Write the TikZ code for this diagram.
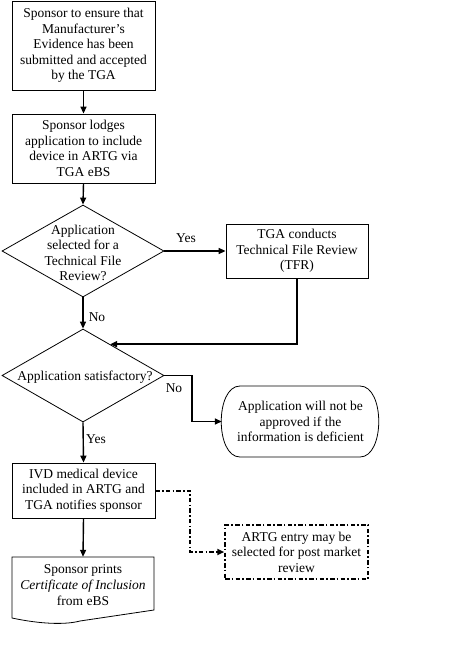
\documentclass[tikz,border=0pt]{standalone}
\usepackage{fontspec}
\setmainfont{Liberation Serif}
\usetikzlibrary{arrows.meta,shapes.geometric,calc}
\begin{document}
\begin{tikzpicture}[x=1pt,y=-1pt,
  every node/.style={font=\fontsize{13.5}{15.6}\selectfont, inner sep=0pt},
  box/.style={draw, line width=0.8pt, align=center, minimum width=143pt},
  dia/.style={draw, line width=0.8pt, diamond, minimum width=162pt, minimum height=92pt},
  txt/.style={align=center},
  arr/.style={line width=1.4pt, -{Triangle[length=7pt,width=6pt]}},
  dashdot/.style={dash pattern=on 4.5pt off 2.2pt on 1.6pt off 2.2pt}
]
\fill[white] (0,0) rectangle (474,658);
\useasboundingbox (0,0) rectangle (474,658);

\node[box, minimum height=89pt] (b1) at (83.5,45.5)
  {Sponsor to ensure that\\Manufacturer's\\Evidence has been\\submitted and accepted\\by the TGA};
\node[box, minimum height=69pt] (b2) at (83.5,148.5)
  {Sponsor lodges\\application to include\\device in ARTG via\\TGA eBS};
\node[dia] (d1) at (83,251) {};
\node[txt] (d1t) at (83,253) {Application\\selected for a\\Technical File\\Review?};
\node[box, minimum width=142pt, minimum height=54pt] (tfr) at (297,251)
  {TGA conducts\\Technical File Review\\(TFR)};
\node[dia, minimum height=93pt] (d2) at (83,375.5) {};
\node[txt] (d2t) at (85,377) {Application satisfactory?};
\node[align=center, minimum width=157pt, minimum height=71pt] (rb) at (300.5,421.5)
  {Application will not be\\approved if the\\information is deficient};
\draw[line width=0.8pt] (240,386) -- (360,386) .. controls (385,386) and (385,457) .. (360,457)
  -- (240,457) .. controls (215,457) and (215,386) .. (240,386) -- cycle;
\node[box, minimum height=55pt] (ivd) at (83.5,490.5)
  {IVD medical device\\included in ARTG and\\TGA notifies sponsor};
\node[box, dashdot, line width=1.5pt, minimum height=54pt] (artg) at (296.5,552)
  {ARTG entry may be\\selected for post market\\review};
\node[txt, minimum width=142pt, minimum height=56pt] (doc) at (83,585)
  {Sponsor prints\\\textit{Certificate of Inclusion}\\from eBS};
\draw[line width=0.8pt] (12,557) -- (154,557) -- (154,610) -- (80,621)
  .. controls (65,625) and (40,624) .. (12,618) -- cycle;

\coordinate (tfrin) at ($(d2.north)!0.333!(d2.east)$);
\coordinate (nob) at (192,375.5);
\coordinate (ddb) at (190,490.5);

\draw[arr] (b1.south) -- (b2.north);
\draw[arr] (b2.south) -- (d1.north);
\draw[arr] (d1.east) -- (tfr.west);
\draw[line width=2.6pt] (d1.east) -- ++(28,0);
\draw[arr] (d1.south) -- (d2.north);
\draw[arr, line width=2.2pt] (tfr.south) |- (tfrin);
\draw[arr] (d2.east) -- (nob) |- (rb.west);
\draw[arr] (d2.south) -- (ivd.north);
\draw[arr] (ivd.south) -- (doc.north);
\draw[arr, dashdot, line width=2pt] (ivd.east) -- (ddb) |- (artg.west);

\node (lyes1) at (186,238) {Yes};
\node (lno1) at (97,317) {No};
\node (lno2) at (174,388) {No};
\node (lyes2) at (96,439) {Yes};
\end{tikzpicture}
\end{document}
